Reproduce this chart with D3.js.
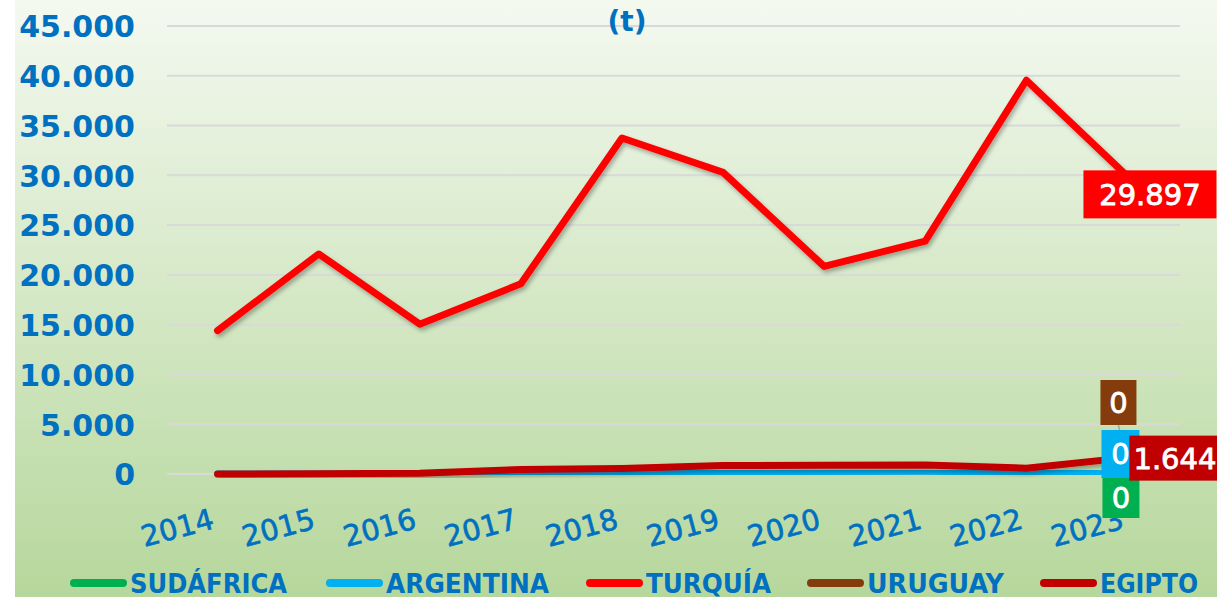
<!DOCTYPE html>
<html>
<head>
<meta charset="utf-8">
<script src="https://cdn.jsdelivr.net/npm/d3@7"></script>
<style>
  body { margin: 0; background: #ffffff; }
  svg { display: block; }
  text { font-family: "DejaVu Sans", sans-serif; }
</style>
</head>
<body>
<div id="chart"></div>
<script>

var years = ["2014", "2015", "2016", "2017", "2018", "2019", "2020", "2021", "2022", "2023"];
var sudafrica = [0, 0, 0, 0, 0, 0, 0, 0, 0, 0];
var argentina = [0, 0, 0, 50, 100, 250, 260, 280, 150, 0];
var turquia = [14400, 22100, 15050, 19100, 33750, 30300, 20850, 23400, 39550, 29897];
var uruguay = [0, 0, 0, 0, 0, 0, 0, 0, 0, 0];
var egipto = [0, 20, 80, 450, 550, 850, 870, 900, 580, 1644];
var yTicks = [0, 5000, 10000, 15000, 20000, 25000, 30000, 35000, 40000, 45000];

var seriesList = [
  {name: "SUDÁFRICA", values: sudafrica, color: "#00b050", box: [-25, 4, 37, 40]},
  {name: "ARGENTINA", values: argentina, color: "#00b0f0", box: [-26, -44, 38, 48]},
  {name: "TURQUÍA", values: turquia, color: "#ff0000", box: [-44, -6, 133, 48]},
  {name: "URUGUAY", values: uruguay, color: "#843c0c", box: [-27, -94, 36, 45]},
  {name: "EGIPTO", values: egipto, color: "#c00000", box: [2, -22, 100, 45]}
];
var legendWidths = [157, 163, 125, 137, 98];
var legendX = [70, 326, 586, 807, 1040];

var width = 1217;
var height = 599;
var blue = "#0070c0";

var locale = d3.formatLocale({decimal: ",", thousands: ".", grouping: [3], currency: ["", ""]});
var fmt = locale.format(",d");

var svg = d3.select("#chart")
            .append("svg")
            .attr("width", width)
            .attr("height", height);

var defs = svg.append("defs");
var grad = defs.append("linearGradient")
               .attr("id", "bg")
               .attr("x1", 0).attr("y1", 0)
               .attr("x2", 0).attr("y2", 1);
grad.append("stop").attr("offset", "0%").attr("stop-color", "#f4f9f0");
grad.append("stop").attr("offset", "100%").attr("stop-color", "#b6d79c");

var shadow = defs.append("filter")
                 .attr("id", "shadow")
                 .attr("x", "-5%").attr("y", "-20%")
                 .attr("width", "110%").attr("height", "140%");
shadow.append("feDropShadow")
      .attr("dx", 2).attr("dy", 3)
      .attr("stdDeviation", 2)
      .attr("flood-color", "#000")
      .attr("flood-opacity", 0.3);

svg.append("rect")
   .attr("x", 15).attr("y", 0)
   .attr("width", width - 15).attr("height", 597)
   .attr("fill", "url(#bg)");

var x = d3.scaleBand()
          .domain(years)
          .range([167, 1178]);
var y = d3.scaleLinear()
          .domain([0, 45000])
          .range([474, 26]);

function cx(d) { return x(d) + x.bandwidth() / 2; }

// grid lines
svg.append("g")
   .selectAll("line")
   .data(yTicks)
   .enter()
   .append("line")
   .attr("x1", 167).attr("x2", 1180)
   .attr("y1", function(d) { return y(d); })
   .attr("y2", function(d) { return y(d); })
   .attr("stroke", "#d9d9d9")
   .attr("stroke-width", 2);

// y axis labels
var yAxis = d3.axisLeft(y).tickValues(yTicks).tickFormat(fmt).tickSize(0).tickPadding(0);
var yG = svg.append("g").attr("transform", "translate(135,0)").call(yAxis);
yG.select(".domain").remove();
yG.selectAll("text")
  .attr("fill", blue)
  .attr("font-size", 30)
  .attr("font-weight", "bold")
  .attr("dy", "0.36em");

// x axis labels
svg.append("g")
   .selectAll("text")
   .data(years)
   .enter()
   .append("text")
   .attr("transform", function(d) { return "translate(" + (cx(d) - 2) + ",528) rotate(-15)"; })
   .attr("text-anchor", "end")
   .attr("fill", blue)
   .attr("font-size", 29)
   .attr("stroke", blue)
   .attr("stroke-width", 0.6)
   .text(function(d) { return d; });

// title
svg.append("text")
   .attr("x", 627).attr("y", 31)
   .attr("text-anchor", "middle")
   .attr("fill", blue)
   .attr("font-size", 28)
   .attr("font-weight", "bold")
   .text("(t)");

// lines
var line = d3.line()
             .x(function(d, i) { return cx(years[i]); })
             .y(function(d) { return y(d); });

svg.append("g")
   .selectAll("path")
   .data(seriesList)
   .enter()
   .append("path")
   .attr("d", function(s) { return line(s.values); })
   .attr("fill", "none")
   .attr("stroke", function(s) { return s.color; })
   .attr("stroke-width", 7)
   .attr("stroke-linejoin", "round")
   .attr("stroke-linecap", "round")
   .attr("filter", "url(#shadow)");

// data labels for the last year
var last = years.length - 1;
var px = cx(years[last]);
var labelOrder = [3, 1, 0, 4, 2];
var labels = svg.append("g");

labelOrder.forEach(function(k) {
  var s = seriesList[k];
  var py = y(s.values[last]);
  var b = s.box;
  labels.append("rect")
        .attr("x", px + b[0]).attr("y", py + b[1])
        .attr("width", b[2]).attr("height", b[3])
        .attr("fill", s.color);
  labels.append("text")
        .attr("x", s.name == "EGIPTO" ? px + b[0] + 4 : px + b[0] + b[2] / 2)
        .attr("y", py + b[1] + b[3] / 2)
        .attr("dy", "0.36em")
        .attr("text-anchor", s.name == "EGIPTO" ? "start" : "middle")
        .attr("fill", "#ffffff")
        .attr("stroke", "#ffffff")
        .attr("stroke-width", 0.8)
        .attr("font-size", 29)
        .text(fmt(s.values[last]));
  if (s.name == "URUGUAY") {
    labels.append("line")
          .attr("x1", px + b[0] + b[2] / 2).attr("y1", py + b[1] + b[3])
          .attr("x2", px + 2).attr("y2", py)
          .attr("stroke", "#a6a6a6")
          .attr("stroke-width", 1.5);
  }
});

// legend
var legend = svg.append("g")
                .selectAll("g")
                .data(seriesList)
                .enter()
                .append("g")
                .attr("transform", function(d, i) { return "translate(" + legendX[i] + ",583)"; });
legend.append("line")
      .attr("x1", 4).attr("x2", 53)
      .attr("y1", 0).attr("y2", 0)
      .attr("stroke", function(d) { return d.color; })
      .attr("stroke-width", 8)
      .attr("stroke-linecap", "round");
legend.append("text")
      .attr("x", 60)
      .attr("y", 10)
      .attr("fill", blue)
      .attr("font-size", 26)
      .attr("font-weight", "bold")
      .attr("textLength", function(d, i) { return legendWidths[i]; })
      .attr("lengthAdjust", "spacingAndGlyphs")
      .text(function(d) { return d.name; });

</script>
</body>
</html>
